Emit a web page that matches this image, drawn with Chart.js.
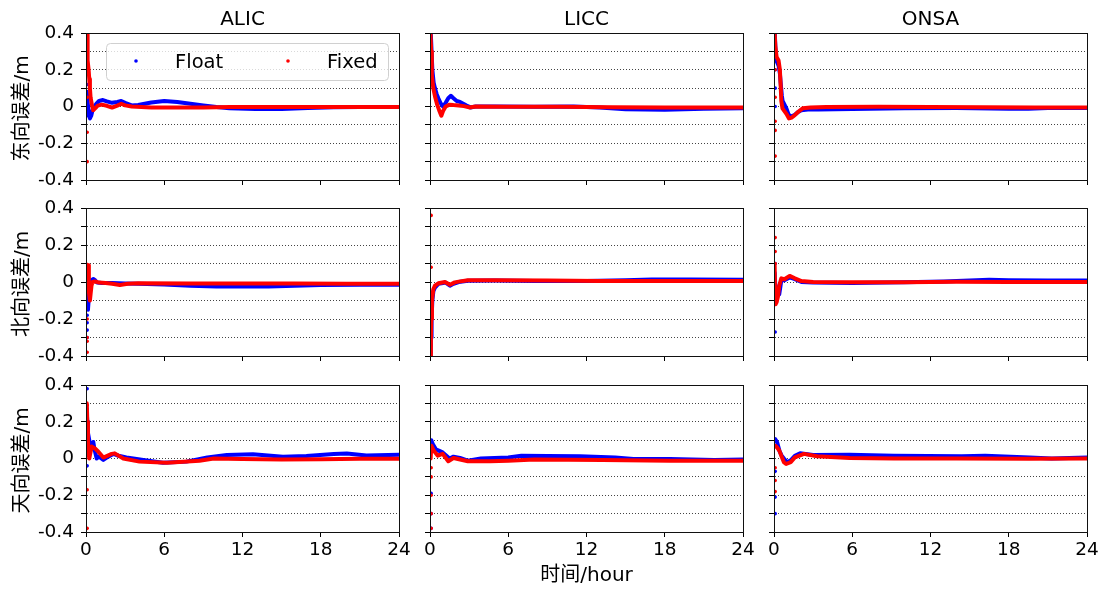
<!DOCTYPE html>
<html>
<head>
<meta charset="utf-8">
<script src="https://cdn.jsdelivr.net/npm/chart.js@4.4.1/dist/chart.umd.min.js"></script>
<style>
html,body{margin:0;padding:0;background:#fff;}
#wrap{position:relative;width:1105px;height:592px;}
#wrap canvas{position:absolute;left:0;top:0;}
</style>
</head>
<body>
<div id="wrap"></div>
<script>
/* ==========================================
   DATA  (hour, error in m)
   leading points with x = 0.09 are the loose dots at the very start
========================================== */
const stations = ["ALIC","LICC","ONSA"];
const components = ["东向误差/m","北向误差/m","天向误差/m"];
const seriesNames = ["Float","Fixed"];
const seriesColors = ["#0000ff","#ff0000"];
const xTicks = [0,6,12,18,24];
const yTicks = [-0.4,-0.3,-0.2,-0.1,0,0.1,0.2,0.3,0.4];
const yTickLabels = ["-0.4","","-0.2","","0","","0.2","","0.4"];
const SPIKE_X = 0.09;

// east
const alicEFloat = [[0.09,0.3],[0.09,0.22],[0.09,0.12],[0.09,-0.05],[0.06,0.08],[0.12,0.03],[0.2,-0.03],[0.3,-0.065],[0.4,-0.05],[0.5,-0.02],[0.65,0.0],[0.8,0.015],[1.0,0.03],[1.3,0.035],[1.6,0.028],[2.0,0.02],[2.4,0.025],[2.7,0.03],[3.0,0.02],[3.5,0.006],[4.0,0.008],[5.0,0.022],[6.0,0.03],[7.0,0.025],[8.0,0.015],[9.0,0.006],[10,-0.003],[11,-0.01],[13,-0.014],[15,-0.014],[17,-0.008],[19,-0.004],[21,-0.003],[24,-0.003]];
const alicEFixed = [[0.09,0.38],[0.09,0.3],[0.09,0.23],[0.09,0.05],[0.09,-0.14],[0.09,-0.3],[0.08,0.4],[0.1,0.35],[0.12,0.3],[0.15,0.25],[0.2,0.2],[0.25,0.15],[0.3,0.1],[0.35,0.05],[0.45,0.01],[0.55,-0.02],[0.7,-0.01],[0.9,0.005],[1.2,0.01],[1.6,0.004],[2.0,-0.006],[2.4,0.005],[2.7,0.015],[3.0,0.006],[3.5,0.0],[5,-0.005],[7,-0.006],[9,-0.005],[11,-0.003],[14,-0.003],[18,-0.003],[24,-0.003]];
const liccEFloat = [[0.09,0.35],[0.09,0.25],[0.06,0.4],[0.12,0.3],[0.18,0.2],[0.28,0.13],[0.38,0.1],[0.5,0.07],[0.64,0.045],[0.8,0.02],[1.0,0.0],[1.2,0.02],[1.4,0.045],[1.6,0.058],[1.8,0.045],[2.05,0.03],[2.3,0.025],[2.55,0.015],[2.8,0.005],[3.1,-0.005],[3.5,0.0],[5,0.0],[8,-0.002],[11,0.0],[13,-0.005],[15,-0.015],[18,-0.018],[21,-0.012],[24,-0.01]];
const liccEFixed = [[0.09,0.33],[0.09,0.22],[0.04,0.4],[0.08,0.3],[0.14,0.17],[0.25,0.1],[0.4,0.05],[0.55,0.01],[0.7,-0.02],[0.87,-0.05],[1.0,-0.025],[1.2,0.0],[1.5,0.01],[1.8,0.008],[2.2,0.006],[2.6,0.002],[3.0,-0.005],[3.5,0.0],[6,-0.002],[10,-0.002],[14,-0.004],[18,-0.006],[24,-0.005]];
const onsaEFloat = [[0.09,0.3],[0.09,0.2],[0.09,0.1],[0.09,0.0],[0.06,0.4],[0.12,0.3],[0.18,0.25],[0.36,0.22],[0.45,0.18],[0.51,0.13],[0.6,0.06],[0.66,0.03],[0.77,0.015],[0.95,-0.01],[1.1,-0.04],[1.25,-0.055],[1.45,-0.05],[1.6,-0.045],[1.85,-0.03],[2.1,-0.02],[2.6,-0.017],[3.4,-0.016],[6,-0.014],[10,-0.01],[14,-0.008],[18,-0.012],[19.5,-0.012],[21,-0.008],[24,-0.008]];
const onsaEFixed = [[0.09,0.35],[0.09,0.2],[0.09,0.05],[0.09,-0.08],[0.09,-0.13],[0.09,-0.27],[0.05,0.4],[0.1,0.33],[0.2,0.27],[0.35,0.25],[0.45,0.2],[0.52,0.1],[0.56,0.03],[0.65,-0.01],[0.8,-0.025],[0.95,-0.04],[1.15,-0.065],[1.35,-0.06],[1.55,-0.05],[1.84,-0.03],[2.2,-0.01],[2.8,-0.005],[4,-0.003],[8,-0.002],[12,-0.003],[16,-0.004],[20,-0.005],[24,-0.006]];

// north
const alicNFloat = [[0.09,-0.1],[0.09,-0.18],[0.09,-0.22],[0.09,-0.26],[0.09,-0.3],[0.05,0.02],[0.1,-0.05],[0.15,-0.15],[0.2,-0.1],[0.28,-0.03],[0.4,0.01],[0.56,0.016],[0.7,0.01],[0.85,-0.003],[1.2,-0.005],[2,-0.006],[3,-0.008],[4,-0.01],[6,-0.014],[8,-0.02],[10,-0.024],[12,-0.025],[14,-0.024],[16,-0.02],[18,-0.016],[21,-0.015],[24,-0.015]];
const alicNFixed = [[0.09,-0.2],[0.09,-0.3],[0.09,-0.32],[0.09,-0.38],[0.05,0.095],[0.08,0.0],[0.12,-0.05],[0.17,0.09],[0.22,-0.05],[0.3,-0.1],[0.36,-0.06],[0.42,-0.02],[0.5,0.0],[0.7,0.003],[1.0,-0.003],[1.5,-0.006],[2.0,-0.01],[2.6,-0.016],[3.2,-0.01],[4,-0.007],[8,-0.008],[12,-0.008],[16,-0.008],[20,-0.01],[24,-0.01]];
const liccNFloat = [[0.09,-0.25],[0.09,-0.3],[0.09,-0.34],[0.09,-0.38],[0.05,-0.4],[0.08,-0.3],[0.12,-0.2],[0.18,-0.1],[0.26,-0.05],[0.38,-0.03],[0.64,-0.01],[1.0,-0.005],[1.2,-0.003],[1.53,-0.02],[1.8,-0.01],[2.2,0.0],[2.9,0.007],[5,0.008],[8,0.006],[12,0.005],[15,0.01],[17,0.014],[20,0.013],[24,0.012]];
const liccNFixed = [[0.09,0.36],[0.09,0.08],[0.09,-0.15],[0.09,-0.25],[0.05,-0.4],[0.07,-0.3],[0.1,-0.2],[0.15,-0.1],[0.25,-0.04],[0.38,-0.02],[0.64,-0.007],[1.15,0.0],[1.53,-0.015],[1.9,-0.002],[2.2,0.002],[2.9,0.009],[5,0.009],[9,0.008],[13,0.006],[17,0.005],[20,0.005],[24,0.005]];
const onsaNFloat = [[0.09,0.1],[0.09,-0.27],[0.05,0.05],[0.1,-0.02],[0.15,-0.07],[0.25,-0.07],[0.4,-0.068],[0.5,-0.02],[0.56,0.01],[0.8,0.01],[1.2,0.025],[1.6,0.015],[2.1,0.0],[3,-0.003],[6,-0.005],[10,-0.002],[13,0.003],[15,0.008],[16.5,0.012],[18,0.01],[21,0.008],[24,0.008]];
const onsaNFixed = [[0.09,0.24],[0.09,0.165],[0.09,0.1],[0.05,0.09],[0.08,-0.05],[0.12,-0.12],[0.2,-0.11],[0.3,-0.08],[0.4,-0.02],[0.56,0.02],[0.8,0.015],[1.2,0.033],[1.6,0.02],[2.1,0.005],[3,0.0],[6,-0.002],[10,-0.001],[14,0.001],[18,0.0],[24,0.0]];

// up
const alicUFloat = [[0.09,0.38],[0.09,0.27],[0.09,0.2],[0.09,-0.04],[0.06,0.25],[0.1,0.2],[0.15,0.14],[0.25,0.1],[0.36,0.046],[0.45,0.07],[0.56,0.09],[0.65,0.05],[0.82,0.0],[1.0,0.01],[1.33,-0.008],[1.7,0.01],[2.1,0.025],[2.5,0.015],[3.1,0.006],[4.4,-0.008],[5.9,-0.023],[7.7,-0.017],[9.3,0.006],[10.8,0.019],[12.8,0.023],[15.1,0.01],[16.9,0.014],[19,0.025],[20,0.027],[21.5,0.016],[24,0.02]];
const alicUFixed = [[0.09,0.29],[0.09,0.2],[0.09,-0.17],[0.09,-0.38],[0.06,0.3],[0.1,0.2],[0.15,0.1],[0.2,0.03],[0.25,0.0],[0.43,0.065],[0.69,0.055],[0.95,0.037],[1.33,0.005],[1.97,0.025],[2.2,0.028],[2.86,0.0],[4.1,-0.017],[6.2,-0.023],[8.7,-0.012],[9.8,0.0],[12,-0.003],[15,-0.005],[18,-0.004],[21,-0.002],[24,-0.002]];
const liccUFloat = [[0.09,-0.19],[0.09,-0.3],[0.09,-0.38],[0.05,0.1],[0.1,0.1],[0.2,0.08],[0.45,0.05],[0.97,0.033],[1.5,0.0],[1.8,0.01],[2.3,0.003],[2.9,-0.012],[3.9,0.0],[6,0.006],[7,0.015],[9,0.014],[11.5,0.012],[14.2,0.006],[15.6,-0.003],[18.4,-0.003],[21.8,-0.008],[24,-0.005]];
const liccUFixed = [[0.09,-0.05],[0.09,-0.1],[0.09,-0.2],[0.09,-0.3],[0.09,-0.38],[0.05,0.0],[0.1,0.07],[0.28,0.043],[0.6,0.015],[0.97,0.025],[1.4,-0.015],[1.8,0.003],[2.9,-0.015],[4.6,-0.015],[6,-0.012],[8,-0.005],[13.2,-0.008],[18.4,-0.012],[24,-0.012]];
const onsaUFloat = [[0.09,-0.07],[0.09,-0.21],[0.09,-0.3],[0.05,0.1],[0.1,0.105],[0.24,0.088],[0.41,0.043],[0.59,0.015],[0.76,0.0],[1.0,-0.02],[1.28,-0.01],[1.6,0.015],[2.0,0.028],[3.0,0.019],[5.8,0.02],[9.2,0.015],[14.4,0.012],[16.2,0.015],[19.6,0.006],[21.3,0.0],[24,0.006]];
const onsaUFixed = [[0.09,-0.05],[0.09,-0.12],[0.09,-0.18],[0.05,0.07],[0.1,0.07],[0.24,0.06],[0.41,0.043],[0.59,0.01],[0.76,-0.02],[0.93,-0.03],[1.28,-0.02],[1.6,0.006],[2.3,0.025],[3.3,0.012],[5.8,0.003],[9.2,0.0],[14,0.0],[19.6,-0.002],[24,0.0]];

const panels = [
  [[alicEFloat,alicEFixed],[liccEFloat,liccEFixed],[onsaEFloat,onsaEFixed]],
  [[alicNFloat,alicNFixed],[liccNFloat,liccNFixed],[onsaNFloat,onsaNFixed]],
  [[alicUFloat,alicUFixed],[liccUFloat,liccUFixed],[onsaUFloat,onsaUFixed]]
];

/* ==========================================
   LAYOUT
========================================== */
const W = 1105, H = 592;
const colLeft = [86,430,774];
const colRight = [399,743,1087];
const rowTop = [33,208,385];
const rowBottom = [180,356,532];
const Y_W = 50, X_H = 30;

Chart.defaults.font.family = "'DejaVu Sans','Noto Sans CJK SC',sans-serif";
Chart.defaults.color = "#000";

/* ==========================================
   FRAME, TITLES, LABELS, LEGEND
========================================== */
const panelDecor = {
  id:"panelDecor",
  afterDraw(chart, args, opts){

    const {ctx, chartArea:a} = chart;
    ctx.save();

    ctx.strokeStyle = "#111";
    ctx.lineWidth = 1;
    ctx.strokeRect(
      Math.round(a.left)+0.5, Math.round(a.top)+0.5,
      Math.round(a.right-a.left), Math.round(a.bottom-a.top)
    );

    ctx.fillStyle = "#000";

    if(opts.title){
      ctx.font = "20px 'DejaVu Sans'";
      ctx.textAlign = "center";
      ctx.textBaseline = "alphabetic";
      ctx.fillText(opts.title,(a.left+a.right)/2,25);
    }

    if(opts.ylabel){
      ctx.save();
      ctx.translate(22.5,(a.top+a.bottom)/2+2);
      ctx.rotate(-Math.PI/2);
      ctx.font = "20px 'DejaVu Sans','Noto Sans CJK SC'";
      ctx.textAlign = "center";
      ctx.textBaseline = "middle";
      ctx.fillText(opts.ylabel,0,0);
      ctx.restore();
    }

    if(opts.xlabel){
      ctx.font = "20px 'DejaVu Sans','Noto Sans CJK SC'";
      ctx.textAlign = "center";
      ctx.textBaseline = "middle";
      ctx.fillText(opts.xlabel,(a.left+a.right)/2,576);
    }

    if(opts.legend){
      const bx = 106.5, by = 43.5, bw = 282, bh = 37, r = 4;
      ctx.beginPath();
      ctx.moveTo(bx+r,by);
      ctx.arcTo(bx+bw,by,bx+bw,by+bh,r);
      ctx.arcTo(bx+bw,by+bh,bx,by+bh,r);
      ctx.arcTo(bx,by+bh,bx,by,r);
      ctx.arcTo(bx,by,bx+bw,by,r);
      ctx.closePath();
      ctx.fillStyle = "rgba(255,255,255,0.8)";
      ctx.fill();
      ctx.strokeStyle = "#d0d0d0";
      ctx.stroke();

      const items = [[136,175],[288,327]];
      ctx.font = "19.5px 'DejaVu Sans'";
      ctx.textAlign = "left";
      ctx.textBaseline = "alphabetic";
      items.forEach((it,k)=>{
        ctx.fillStyle = seriesColors[k];
        ctx.beginPath();
        ctx.arc(it[0],61,1.8,0,Math.PI*2);
        ctx.fill();
        ctx.fillStyle = "#000";
        ctx.fillText(seriesNames[k],it[1],67.5);
      });
    }

    ctx.restore();
  }
};

/* ==========================================
   ONE PANEL
========================================== */
function renderPanel(r,c){

  const canvas = document.createElement("canvas");
  canvas.width = W;
  canvas.height = H;
  document.getElementById("wrap").appendChild(canvas);

  const datasets = panels[r][c].map((arr,k)=>{

    // loose start dots come first in each list
    let nSpike = arr.findIndex(p=>p[0]!==SPIKE_X);
    if(nSpike<0) nSpike = 0;

    return {
      label:seriesNames[k],
      data:arr.map(p=>({x:p[0],y:p[1]})),
      showLine:true,
      borderColor:seriesColors[k],
      backgroundColor:seriesColors[k],
      borderWidth:4,
      borderCapStyle:"round",
      borderJoinStyle:"round",
      tension:0,
      pointRadius:ctx=>ctx.dataIndex < nSpike ? 1.8 : 0,
      pointBorderWidth:0,
      pointHoverRadius:0,
      order:k===0 ? 1 : 0,
      segment:{
        borderColor:ctx=>ctx.p0DataIndex < nSpike ? "rgba(0,0,0,0)" : undefined
      }
    };
  });

  new Chart(canvas,{
    type:"scatter",
    data:{datasets},
    plugins:[panelDecor],
    options:{
      responsive:false,
      animation:false,
      events:[],
      layout:{
        padding:{
          left:colLeft[c]-Y_W,
          right:W-colRight[c],
          top:rowTop[r],
          bottom:H-rowBottom[r]-X_H
        }
      },
      plugins:{
        legend:{display:false},
        tooltip:{enabled:false},
        panelDecor:{
          title:r===0 ? stations[c] : "",
          ylabel:c===0 ? components[r] : "",
          xlabel:(r===2 && c===1) ? "时间/hour" : "",
          legend:r===0 && c===0
        }
      },
      scales:{
        x:{
          type:"linear",
          min:0,
          max:24,
          afterBuildTicks:s=>{ s.ticks = xTicks.map(v=>({value:v})); },
          afterFit:s=>{ s.height = X_H; },
          grid:{
            drawOnChartArea:false,
            drawTicks:true,
            tickLength:5,
            tickColor:"#000",
            tickWidth:1
          },
          border:{display:true,color:"#111",width:1},
          ticks:{
            display:r===2,
            autoSkip:false,
            maxRotation:0,
            padding:2,
            color:"#000",
            font:{size:18.5}
          }
        },
        y:{
          type:"linear",
          min:-0.4,
          max:0.4,
          afterBuildTicks:s=>{ s.ticks = yTicks.map(v=>({value:v})); },
          afterFit:s=>{ s.width = Y_W; },
          grid:{
            drawOnChartArea:true,
            color:ctx=>(ctx.tick && Math.abs(ctx.tick.value) > 0.35) ? "rgba(0,0,0,0)" : "#444",
            lineWidth:1,
            tickLength:5,
            tickColor:"#000",
            tickWidth:1,
            tickBorderDash:[]
          },
          border:{display:true,color:"#111",width:1,dash:[1,2]},
          ticks:{
            display:c===0,
            autoSkip:false,
            padding:7,
            color:"#000",
            font:{size:18.5},
            callback:(v,i)=>yTickLabels[i]
          }
        }
      }
    }
  });

}

/* ==========================================
   RENDER ALL PANELS
========================================== */
for(let r=0;r<3;r++){
  for(let c=0;c<3;c++){
    renderPanel(r,c);
  }
}
</script>
</body>
</html>
